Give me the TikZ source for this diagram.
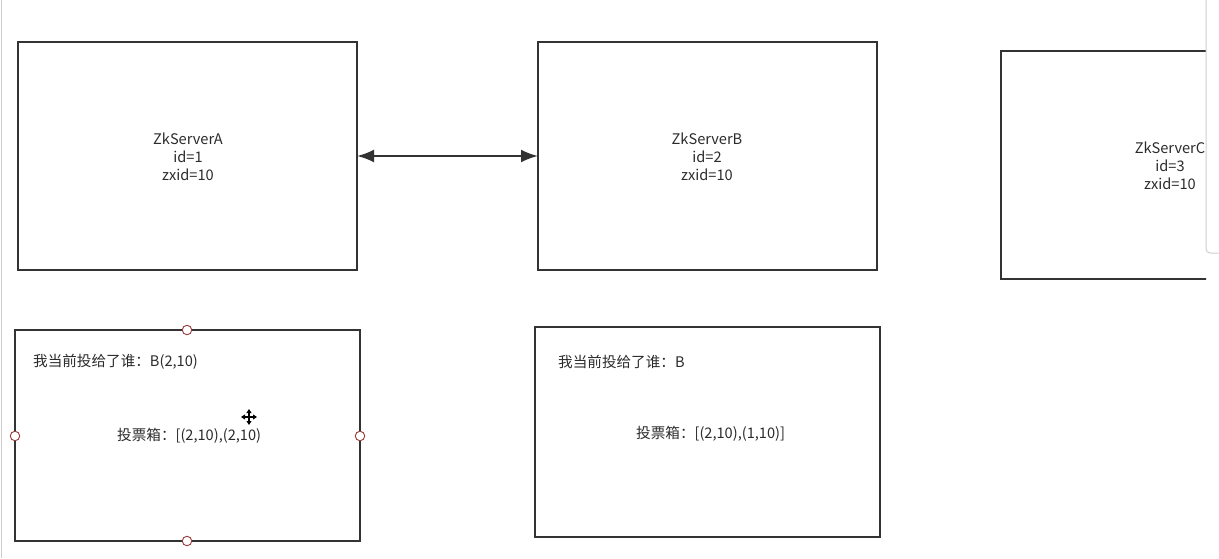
\documentclass[tikz,border=0pt]{standalone}
\usepackage{fontspec}
\setmainfont{Noto Sans CJK SC}
\usetikzlibrary{arrows.meta}
\definecolor{ink}{HTML}{333333}
\definecolor{txt}{HTML}{2B2B2B}
\definecolor{handle}{HTML}{9A3A3A}
\definecolor{panelline}{HTML}{CFCFCF}
\begin{document}
\begin{tikzpicture}[x=1pt,y=-1pt,
  box/.style={draw=ink,line width=2pt},
  lbl/.style={text=txt,font=\fontsize{14.6}{18}\selectfont,inner sep=0pt},
  ctr/.style={lbl,align=center},
  hdl/.style={circle,draw=handle,fill=white,line width=0.9pt,minimum size=9.5pt,inner sep=0pt}]
\useasboundingbox (0,0) rectangle (1219,558);
\fill[white] (0,0) rectangle (1219,558);
\draw[panelline,line width=1pt] (1,0) -- (1,558);
% top servers
\draw[box] (18,42) rectangle (357,270);
\draw[box] (538,42) rectangle (877,270);
\begin{scope}
\clip (990,30) rectangle (1206,290);
\draw[box] (1001,51) rectangle (1240,279);
\node[ctr] (tc) at (1170,166) {ZkServerC\\id=3\\zxid=10};
\end{scope}
\coordinate (ar) at (357,156);
\coordinate (bl) at (538,156);
\node[ctr] (ta) at (188,157) {ZkServerA\\id=1\\zxid=10};
\node[ctr] (tb) at (707,157) {ZkServerB\\id=2\\zxid=10};
\draw[ink,line width=2.2pt,{Latex[length=17pt,width=13pt]}-{Latex[length=17pt,width=13pt]}] (ar) -- (bl);
% vote boxes
\draw[box] (15,330) rectangle (360,541);
\draw[box] (535,327) rectangle (880,537);
\node[lbl,anchor=west] (va) at (33,362) {我当前投给了谁：B(2,10)};
\node[lbl,anchor=west] (ba) at (117,436) {投票箱：[(2,10),(2,10)};
\node[lbl,anchor=west] (vb) at (558,362) {我当前投给了谁：B};
\node[lbl,anchor=west] (bb) at (636,434) {投票箱：[(2,10),(1,10)]};
% selection handles
\node[hdl] (h1) at (187,330) {};
\node[hdl] (h2) at (15,436) {};
\node[hdl] (h3) at (360,436) {};
\node[hdl] (h4) at (187,541) {};
% move cursor
\coordinate (cc) at (249,417);
\draw[black,line width=1.6pt,{Triangle[length=4pt,width=5pt]}-{Triangle[length=4pt,width=5pt]}] ([xshift=-8pt]cc) -- ([xshift=8pt]cc);
\draw[black,line width=1.6pt,{Triangle[length=4pt,width=5pt]}-{Triangle[length=4pt,width=5pt]}] ([yshift=-8pt]cc) -- ([yshift=8pt]cc);
% side panel
\draw[panelline,fill=white,line width=1pt,rounded corners=4pt] (1230,-5) -- (1206,-5) -- (1206,253) -- (1230,253);
\end{tikzpicture}
\end{document}
